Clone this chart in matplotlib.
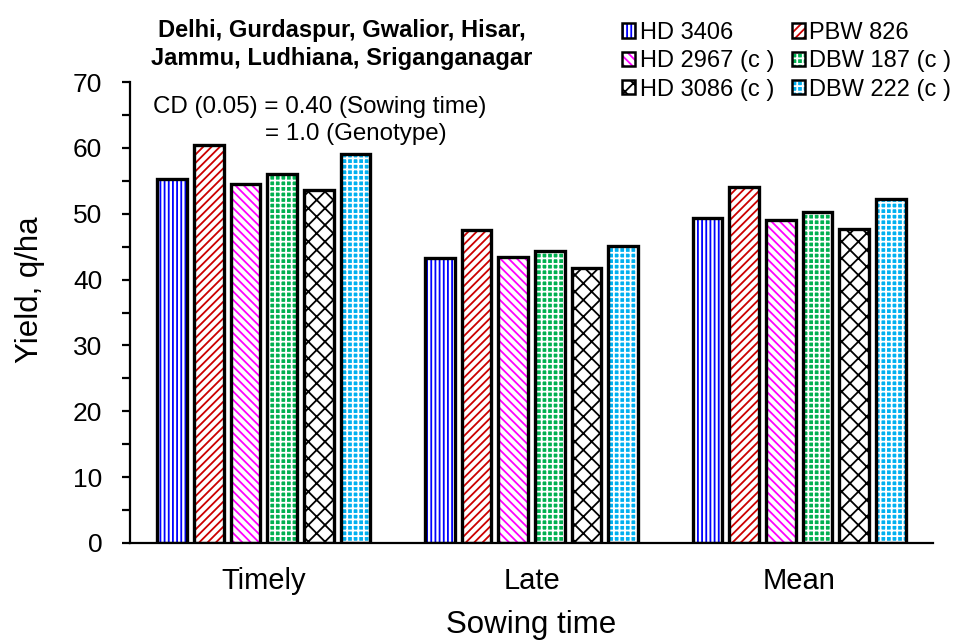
import matplotlib.pyplot as plt
import numpy as np
from matplotlib.patches import Patch
from matplotlib.ticker import MultipleLocator

plt.rcParams['font.family'] = ['Liberation Sans', 'DejaVu Sans']
plt.rcParams['hatch.linewidth'] = 1.3

categories = ['Timely', 'Late', 'Mean']
genotypes = ['HD 3406', 'PBW 826', 'HD 2967 (c )', 'DBW 187 (c )', 'HD 3086 (c )', 'DBW 222 (c )']
yields = [
    [55.2, 43.2, 49.3],
    [60.4, 47.5, 54.0],
    [54.5, 43.4, 49.0],
    [56.1, 44.3, 50.3],
    [53.6, 41.8, 47.7],
    [59.1, 45.1, 52.2],
]
# face colour, hatch colour, hatch pattern
styles = [
    ('white', '#0000FF', '||||'),
    ('white', '#CC0000', '////'),
    ('white', '#FF00FF', '\\\\\\\\'),
    ('#00B050', 'white', '+++'),
    ('white', 'black', 'xx'),
    ('#00B0F0', 'white', '+++'),
]

fig = plt.figure(figsize=(9.58, 6.43), dpi=100)
ax = fig.add_axes([130 / 958, 100 / 643, 803 / 958, 461 / 643])

x = np.arange(len(categories)) + 0.5
pitch = 0.137
width = 0.112
handles = []
for i, (g, vals) in enumerate(zip(genotypes, yields)):
    fc, hc, h = styles[i]
    pos = x + (i - 2.5) * pitch
    ax.bar(pos, vals, width, facecolor=fc, edgecolor=hc, hatch=h, linewidth=0, zorder=2)
    ax.bar(pos, vals, width, fill=False, edgecolor='black', linewidth=2.4, zorder=3)
    handles.append((Patch(facecolor=fc, edgecolor=hc, hatch=h, linewidth=0),
                    Patch(fill=False, edgecolor='black', linewidth=1.8)))

ax.set_xlim(0, 3)
ax.set_ylim(0, 70)
ax.set_xticks(x)
ax.set_xticklabels(categories, fontsize=21)
ax.tick_params(axis='x', length=0, pad=17)
ax.yaxis.set_major_locator(MultipleLocator(10))
ax.yaxis.set_minor_locator(MultipleLocator(5))
ax.tick_params(axis='y', which='both', length=6, width=1.6, labelsize=19, pad=14)
for s in ['top', 'right']:
    ax.spines[s].set_visible(False)
for s in ['left', 'bottom']:
    ax.spines[s].set_linewidth(1.6)

ax.set_xlabel('Sowing time', fontsize=22.5, labelpad=11)
fig.text(30 / 958, 1 - 290 / 643, 'Yield, q/ha', fontsize=22.5, rotation=90,
         ha='center', va='center')

fig.text(342 / 958, 1 - 37 / 643, 'Delhi, Gurdaspur, Gwalior, Hisar,', fontsize=17,
         fontweight='bold', ha='center', va='baseline')
fig.text(342 / 958, 1 - 65 / 643, 'Jammu, Ludhiana, Sriganganagar', fontsize=17,
         fontweight='bold', ha='center', va='baseline')
fig.text(153 / 958, 1 - 113 / 643, 'CD (0.05) = 0.40 (Sowing time)', fontsize=17.4,
         ha='left', va='baseline')
fig.text(265 / 958, 1 - 140 / 643, '= 1.0 (Genotype)', fontsize=17.4,
         ha='left', va='baseline')

order = [0, 2, 4, 1, 3, 5]
fig.legend([handles[k] for k in order], [genotypes[k] for k in order],
           loc='upper left', bbox_to_anchor=(610 / 958, 1 - 10 / 643), ncol=2,
           frameon=False, fontsize=17, handlelength=0.55, handleheight=0.55,
           handletextpad=0.2, columnspacing=0.75, labelspacing=0.27, borderpad=0)

fig.savefig('out.png', dpi=100)
